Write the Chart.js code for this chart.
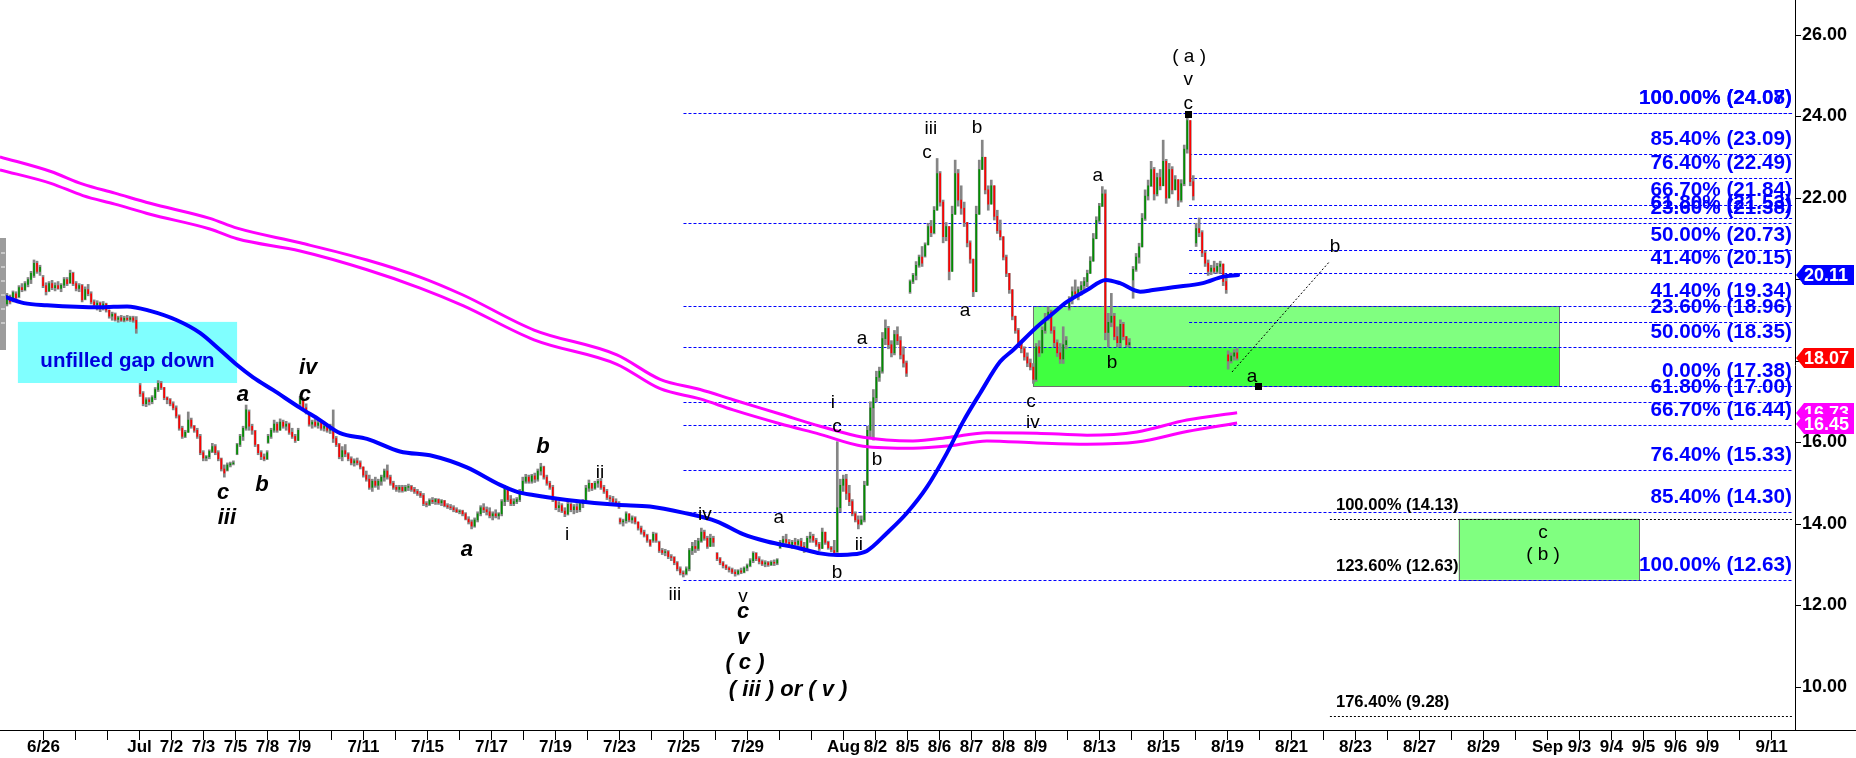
<!DOCTYPE html>
<html><head><meta charset="utf-8">
<script src="https://cdn.jsdelivr.net/npm/chart.js@4.4.1/dist/chart.umd.min.js"></script>
<style>html,body{margin:0;padding:0;background:#fff;overflow:hidden}</style>
</head><body>
<canvas id="c" width="1856" height="758"></canvas>
<script>
const FONT = '"Liberation Sans", Arial, Helvetica, sans-serif';

// ---- axis ----
const tickLabels = ["6/26","","","Jul","7/2","7/3","7/5","7/8","7/9","","7/11","","7/15","","7/17","","7/19","","7/23","","7/25","","7/29","","","Aug","8/2","8/5","8/6","8/7","8/8","8/9","","8/13","","8/15","","8/19","","8/21","","8/23","","8/27","","8/29","","Sep","9/3","9/4","9/5","9/6","9/9","","9/11"];
const yTickValues = [10,12,14,16,18,20,22,24,26];
const X_MIN = -1.359, X_MAX = 54.734, Y_MIN = 8.945, Y_MAX = 26.859;

// ---- price bars [open, high, low, close]; session index of first bar + bar interval ----
const BAR_STEP = 0.094;
const segStarts = [-1.33, 3.02, 6.05, 7.02, 8.02, 18.02, 21.05, 23.02, 27.08, 31.02, 34.05, 36.02, 37.02];
const segA = [[19.33,19.58,19.25,19.50],[19.45,19.55,19.30,19.35],[19.40,19.66,19.35,19.60],[19.58,19.62,19.40,19.45],[19.48,19.72,19.45,19.68],[19.65,19.70,19.50,19.55],[19.58,19.85,19.55,19.80],[19.80,19.90,19.70,19.75],[19.75,19.95,19.72,19.90],[19.88,20.05,19.82,20.00],[20.00,20.20,19.90,20.15],[20.10,20.48,20.05,20.40],[20.40,20.45,20.15,20.20],[20.20,20.35,20.10,20.30],[20.05,20.10,19.80,19.85],[19.85,19.92,19.62,19.70],[19.72,19.95,19.70,19.90],[19.90,19.98,19.75,19.80],[19.80,19.92,19.72,19.85],[19.85,19.95,19.76,19.78],[19.78,19.90,19.70,19.86],[19.86,20.05,19.80,20.00],[20.00,20.05,19.85,19.90],[19.92,20.23,19.90,20.15],[20.15,20.18,19.85,19.90],[19.90,19.95,19.72,19.78],[19.78,19.90,19.70,19.85],[19.85,19.88,19.45,19.50],[19.52,19.82,19.50,19.75],[19.75,19.88,19.60,19.65],[19.65,19.70,19.40,19.45],[19.45,19.50,19.30,19.38],[19.38,19.48,19.25,19.42],[19.42,19.45,19.21,19.28],[19.30,19.46,19.25,19.40],[19.40,19.42,19.20,19.25],[19.25,19.25,19.05,19.10],[19.10,19.20,19.00,19.15],[19.15,19.18,18.98,19.02],[19.02,19.10,18.95,19.06],[19.06,19.12,18.97,19.00],[19.00,19.10,18.96,19.05],[19.05,19.12,18.98,19.02],[19.02,19.10,18.97,19.06],[19.06,19.10,18.95,19.00],[19.00,19.09,18.68,18.80]];
const segB = [[17.40,17.45,17.13,17.20],[17.20,17.25,16.90,16.95],[16.95,17.10,16.88,17.05],[17.05,17.10,16.92,17.00],[17.00,17.15,16.95,17.10],[17.10,17.35,17.05,17.30],[17.30,17.52,17.25,17.45],[17.45,17.50,17.30,17.35],[17.35,17.35,17.05,17.10],[17.10,17.12,16.95,17.05],[17.05,17.08,16.90,16.95],[16.95,17.00,16.80,16.85],[16.85,16.90,16.60,16.65],[16.65,16.68,16.30,16.35],[16.35,16.40,16.10,16.15],[16.15,16.30,16.12,16.25],[16.25,16.75,16.25,16.55],[16.55,16.60,16.35,16.40],[16.40,16.42,16.25,16.30],[16.30,16.35,16.10,16.15],[16.15,16.20,15.70,15.75],[15.75,15.80,15.55,15.62],[15.62,15.68,15.55,15.65],[15.65,15.82,15.60,15.78],[15.78,15.98,15.75,15.90],[15.90,15.95,15.70,15.75],[15.75,15.80,15.55,15.60],[15.60,15.62,15.30,15.35],[15.35,15.45,15.15,15.25],[15.32,15.50,15.30,15.45],[15.45,15.52,15.40,15.48],[15.48,15.55,15.45,15.50]];
const segC = [[15.72,15.98,15.70,15.95],[15.95,16.20,15.90,16.15],[16.15,16.40,16.05,16.35],[16.35,16.92,16.30,16.80],[16.75,16.80,16.30,16.40],[16.40,16.45,16.20,16.30],[16.28,16.30,15.90,15.95],[15.95,15.95,15.70,15.75],[15.75,15.80,15.58,15.65],[15.65,15.72,15.55,15.60],[15.60,15.80,15.58,15.75]];
const segD = [[16.00,16.20,15.98,16.15],[16.15,16.35,16.10,16.30],[16.30,16.55,16.25,16.45],[16.45,16.50,16.25,16.30],[16.30,16.58,16.30,16.50],[16.50,16.55,16.35,16.40],[16.40,16.52,16.30,16.45],[16.45,16.48,16.20,16.25],[16.25,16.35,16.10,16.15],[16.15,16.20,16.00,16.05],[16.05,16.35,16.05,16.30]];
const segE = [[16.95,17.13,16.90,17.08],[17.05,17.10,16.80,16.85],[16.85,16.95,16.70,16.75],[16.70,16.70,16.40,16.45],[16.45,16.55,16.35,16.50],[16.50,16.58,16.38,16.42],[16.42,16.55,16.35,16.48],[16.48,16.52,16.30,16.35],[16.35,16.45,16.28,16.40],[16.40,16.42,16.25,16.30],[16.30,16.45,16.22,16.35],[16.35,16.80,16.00,16.10],[16.10,16.15,15.90,15.95],[15.95,15.98,15.60,15.65],[15.65,15.90,15.55,15.80],[15.80,15.95,15.65,15.72],[15.72,15.75,15.55,15.60],[15.60,15.65,15.45,15.50],[15.50,15.60,15.42,15.55],[15.55,15.62,15.45,15.50],[15.50,15.55,15.35,15.40],[15.40,15.40,15.15,15.20],[15.20,15.30,15.05,15.10],[15.10,15.20,14.85,14.90],[14.90,15.10,14.80,15.05],[15.05,15.15,14.90,14.95],[14.95,15.10,14.85,15.05],[15.05,15.20,14.95,15.15],[15.15,15.35,15.05,15.30],[15.30,15.45,15.10,15.15],[15.15,15.20,14.95,15.00],[15.00,15.05,14.85,14.90],[14.90,14.95,14.80,14.85],[14.85,14.95,14.78,14.90],[14.90,14.95,14.78,14.82],[14.82,14.95,14.80,14.90],[14.90,14.98,14.82,14.92],[14.92,14.95,14.80,14.85],[14.85,14.90,14.75,14.80],[14.80,14.85,14.70,14.75],[14.75,14.80,14.65,14.70],[14.70,14.75,14.45,14.50],[14.50,14.55,14.42,14.48],[14.48,14.62,14.45,14.58],[14.58,14.65,14.50,14.55],[14.55,14.63,14.48,14.60],[14.60,14.62,14.48,14.52],[14.52,14.60,14.45,14.57],[14.57,14.58,14.42,14.45],[14.45,14.50,14.38,14.42],[14.42,14.48,14.35,14.40],[14.40,14.45,14.30,14.35],[14.35,14.40,14.28,14.30],[14.30,14.35,14.25,14.32],[14.32,14.34,14.20,14.25],[14.25,14.28,14.10,14.12],[14.12,14.18,14.00,14.05],[14.05,14.10,13.88,13.95],[13.95,14.15,13.92,14.10],[14.10,14.30,14.05,14.25],[14.25,14.45,14.20,14.40],[14.40,14.50,14.28,14.35],[14.35,14.42,14.22,14.30],[14.30,14.40,14.15,14.20],[14.20,14.30,14.10,14.25],[14.25,14.35,14.15,14.20],[14.20,14.28,14.12,14.25],[14.25,14.60,14.20,14.55],[14.55,14.95,14.45,14.85],[14.85,14.88,14.55,14.60],[14.60,14.70,14.45,14.50],[14.50,14.62,14.45,14.55],[14.55,14.65,14.50,14.60],[14.60,14.85,14.55,14.80],[14.80,15.15,14.78,15.05],[15.05,15.22,15.00,15.15],[15.15,15.20,15.00,15.05],[15.05,15.22,15.00,15.18],[15.18,15.25,15.02,15.10],[15.10,15.35,15.05,15.30],[15.30,15.49,15.20,15.40],[15.40,15.42,15.10,15.15],[15.15,15.20,14.95,15.00],[15.00,15.05,14.85,14.90],[14.90,14.95,14.55,14.60],[14.60,14.65,14.35,14.40],[14.40,14.55,14.30,14.45],[14.45,14.50,14.28,14.32],[14.32,14.40,14.18,14.25],[14.25,14.55,14.22,14.48],[14.48,14.52,14.30,14.35],[14.35,14.48,14.25,14.42],[14.42,14.50,14.28,14.35],[14.35,14.55,14.30,14.50],[14.50,14.60,14.40,14.55],[14.55,14.95,14.50,14.88],[14.88,15.08,14.80,15.00],[15.00,15.00,14.82,14.88],[14.88,15.05,14.85,15.00],[15.00,15.10,14.90,15.05],[15.05,15.12,14.85,14.90],[14.90,14.95,14.75,14.80],[14.80,14.85,14.60,14.65],[14.65,14.70,14.55,14.62],[14.62,14.68,14.50,14.55],[14.55,14.62,14.45,14.50],[14.50,14.55,14.38,14.42]];
const segF = [[14.12,14.15,14.00,14.05],[14.05,14.12,13.95,14.08],[14.08,14.30,14.02,14.25],[14.25,14.25,14.05,14.10],[14.10,14.20,14.02,14.15],[14.15,14.18,14.00,14.05],[14.05,14.05,13.85,13.90],[13.90,13.95,13.75,13.80],[13.80,13.85,13.68,13.72],[13.72,13.75,13.55,13.60],[13.60,13.62,13.45,13.48],[13.60,13.80,13.55,13.75],[13.75,13.78,13.55,13.60],[13.55,13.58,13.30,13.35],[13.35,13.40,13.25,13.30],[13.30,13.38,13.22,13.32],[13.32,13.35,13.15,13.20],[13.20,13.25,13.10,13.18],[13.18,13.20,13.00,13.05],[13.05,13.08,12.85,12.90],[12.90,12.95,12.75,12.80],[12.80,12.85,12.70,12.78],[12.78,12.95,12.75,12.90],[12.90,13.40,12.85,13.35],[13.35,13.55,13.25,13.45],[13.45,13.60,13.30,13.40],[13.40,13.65,13.35,13.58],[13.58,13.90,13.55,13.80],[13.80,13.85,13.60,13.65],[13.65,13.70,13.40,13.45],[13.45,13.75,13.45,13.65],[13.65,13.70,13.45,13.55]];
const segG = [[13.28,13.30,13.10,13.15],[13.15,13.18,13.00,13.05],[13.05,13.08,12.92,12.98],[12.98,13.00,12.88,12.92],[12.92,12.95,12.82,12.88],[12.88,12.92,12.78,12.82],[12.82,12.88,12.72,12.78],[12.78,12.88,12.75,12.85],[12.85,12.92,12.78,12.82],[12.82,12.95,12.80,12.92],[12.92,13.02,12.85,12.98],[12.98,13.15,12.95,13.10],[13.10,13.32,13.05,13.28],[13.28,13.30,13.10,13.15],[13.15,13.20,13.02,13.08],[13.08,13.12,12.98,13.02],[13.02,13.10,12.95,13.05],[13.05,13.08,12.96,13.00],[13.00,13.10,12.98,13.06],[13.06,13.12,12.98,13.04],[13.04,13.15,13.00,13.12]];
const segH = [[13.42,13.60,13.40,13.55],[13.55,13.70,13.45,13.62],[13.62,13.75,13.50,13.55],[13.55,13.62,13.42,13.48],[13.48,13.60,13.40,13.55],[13.55,13.65,13.45,13.50],[13.50,13.62,13.40,13.58],[13.58,13.65,13.40,13.45],[13.45,13.55,13.30,13.35],[13.35,13.70,13.35,13.65],[13.65,13.80,13.55,13.70],[13.70,13.75,13.55,13.60],[13.60,13.65,13.45,13.50],[13.50,13.55,13.35,13.40],[13.40,13.90,13.40,13.80],[13.80,13.80,13.50,13.55],[13.55,13.58,13.38,13.42],[13.42,13.45,13.32,13.38],[13.35,13.60,13.24,13.30],[13.32,16.02,13.30,14.40],[14.40,15.10,14.30,14.95],[14.95,15.20,14.80,15.10],[15.10,15.22,14.60,14.75],[14.75,14.95,14.45,14.55],[14.55,14.60,14.20,14.25],[14.25,14.30,14.05,14.10],[14.10,14.20,13.88,14.00],[14.00,14.20,13.98,14.10],[14.10,15.05,14.05,14.95],[14.95,16.40,14.95,16.30],[16.30,17.00,16.10,16.85],[16.85,17.30,16.06,17.10],[17.10,17.75,17.00,17.60],[17.60,17.85,17.50,17.75],[17.75,18.70,17.70,18.55],[18.55,19.01,18.40,18.80],[18.80,18.85,18.30,18.40],[18.40,18.50,18.10,18.20],[18.20,18.75,18.15,18.65],[18.65,18.84,18.40,18.50],[18.50,18.60,18.05,18.15],[18.15,18.35,17.85,17.95],[17.95,18.00,17.62,17.70]];
const segI = [[19.70,19.99,19.66,19.95],[19.95,20.15,19.90,20.10],[20.10,20.44,19.99,20.35],[20.35,20.60,20.30,20.55],[20.55,20.81,20.32,20.40],[20.58,20.90,20.55,20.85],[20.85,21.38,20.85,21.30],[21.30,21.45,21.05,21.15],[21.15,21.79,21.12,21.70],[21.70,22.97,21.70,22.60],[22.60,22.65,21.80,21.90],[21.90,21.95,20.90,21.05],[21.05,21.40,20.95,21.30],[21.30,21.30,19.99,20.20],[20.20,21.80,20.20,21.60],[21.60,22.93,21.60,22.60],[22.60,22.70,21.80,21.95],[21.95,22.30,21.60,21.75],[21.75,21.90,21.30,21.40],[21.40,21.40,20.80,20.90],[20.90,20.95,20.40,20.50],[20.50,20.50,19.58,19.70],[19.70,21.80,19.70,21.60],[21.60,22.93,21.60,22.70],[22.70,23.42,22.70,23.00],[23.00,23.00,22.10,22.20],[22.20,22.30,21.70,21.85],[21.85,22.44,21.85,22.30],[22.30,22.30,21.46,21.55],[21.55,21.70,21.13,21.20],[21.20,21.46,20.97,21.05],[21.05,21.05,20.48,20.55],[20.55,20.60,20.07,20.15],[20.15,20.15,19.66,19.75],[19.75,19.75,19.01,19.10],[19.10,19.10,18.68,18.75],[18.75,18.80,18.35,18.45],[18.45,18.45,18.20,18.30],[18.30,18.35,18.02,18.10],[18.10,18.20,17.86,17.95],[17.95,18.05,17.78,17.85],[17.85,17.94,17.45,17.55]];
const segJ = [[17.55,18.43,17.50,18.35],[18.35,18.50,18.11,18.20],[18.20,18.84,18.20,18.75],[18.75,19.17,18.68,19.05],[19.05,19.33,19.00,19.20],[19.20,19.25,18.68,18.75],[18.75,18.84,18.35,18.45],[18.45,18.52,18.11,18.20],[18.20,18.43,17.94,18.05],[18.05,18.84,17.94,18.40],[18.40,18.60,18.30,18.50],[19.30,19.58,19.25,19.50],[19.50,19.82,19.40,19.70],[19.70,19.99,19.58,19.65],[19.65,19.82,19.50,19.75],[19.75,19.95,19.62,19.85],[19.85,20.05,19.70,19.95],[19.95,20.23,19.82,20.15],[20.15,20.56,20.15,20.45],[20.45,21.13,20.45,21.00],[21.00,21.54,21.00,21.45],[21.45,21.87,21.40,21.80],[21.80,22.28,21.79,22.10],[22.10,22.20,18.52,18.70],[18.70,19.17,18.35,18.95],[18.95,19.66,18.84,19.10],[19.10,19.17,18.52,18.60],[18.60,18.84,18.35,18.45],[18.45,19.01,18.35,18.90],[18.90,18.95,18.52,18.60],[18.60,18.60,18.35,18.40],[18.40,18.55,18.35,18.45]];
const segK = [[19.99,20.32,19.54,20.25],[20.25,20.64,20.20,20.55],[20.55,20.89,20.40,20.80],[20.80,21.62,20.80,21.50],[21.50,22.20,21.45,22.05],[22.05,22.44,21.95,22.30],[22.30,22.90,22.28,22.70],[22.70,22.75,21.95,22.10],[22.10,22.61,22.05,22.50],[22.50,22.70,22.20,22.30],[22.30,23.42,22.30,22.90],[22.90,22.95,21.87,22.00],[22.00,22.85,22.00,22.70],[22.70,22.77,22.10,22.20],[22.20,22.55,22.20,22.45],[22.45,22.45,21.79,21.95],[21.95,22.45,21.90,22.35],[22.35,23.30,22.30,23.20],[23.20,24.08,23.10,23.90],[23.90,23.90,22.30,22.40],[22.40,22.55,21.95,22.05]];
const segL = [[20.90,21.38,20.81,21.25],[21.25,21.51,21.05,21.15],[21.15,21.20,20.56,20.65],[20.65,20.70,20.32,20.40],[20.40,20.48,20.10,20.20],[20.20,20.35,20.12,20.28],[20.28,20.45,20.15,20.20],[20.20,20.40,20.15,20.32],[20.32,20.45,20.15,20.38],[20.38,20.38,19.85,19.95],[19.95,20.05,19.66,19.75]];
const segM = [[18.15,18.25,17.80,18.00],[18.00,18.20,17.95,18.12],[18.12,18.28,18.02,18.20],[18.20,18.31,18.02,18.07]];
const segBars = [segA, segB, segC, segD, segE, segF, segG, segH, segI, segJ, segK, segL, segM];

// ---- moving averages ----
const blueT = [-1.36,-0.61,0.11,1.77,2.61,3.33,4.17,4.89,5.52,6.05,6.55,7.17,8.02,8.64,9.27,10.11,11.14,12.17,13.23,14.27,14.80,15.30,16.36,17.92,18.95,19.98,21.05,21.86,22.61,23.64,24.27,24.80,25.20,25.73,26.36,26.98,27.61,28.23,28.73,29.27,29.89,30.30,31.05,31.55,31.98,32.61,33.20,33.64,34.27,34.67,35.30,36.23,36.86,37.33];
const blueV = [19.62,19.42,19.37,19.32,19.34,19.23,19.00,18.69,18.27,17.90,17.60,17.29,16.85,16.55,16.23,16.09,15.78,15.67,15.39,14.96,14.79,14.71,14.59,14.47,14.43,14.28,14.06,13.75,13.57,13.40,13.28,13.24,13.25,13.34,13.78,14.27,14.91,15.74,16.50,17.21,17.98,18.27,18.84,19.17,19.45,19.74,19.99,19.91,19.70,19.74,19.81,19.91,20.07,20.11];
const magT = [-1.36,0.23,1.23,2.23,3.33,5.20,6.05,8.02,10.11,11.77,13.11,15.33,17.92,19.27,20.52,21.55,23.02,24.27,25.61,27.17,28.33,29.48,31.05,32.61,34.17,35.73,37.30];
const magUpper = [23.01,22.65,22.34,22.12,21.87,21.50,21.26,20.90,20.48,20.06,19.62,18.76,18.15,17.55,17.30,17.05,16.70,16.40,16.13,16.04,16.13,16.24,16.23,16.18,16.26,16.55,16.73];
const magLower = [22.69,22.36,22.06,21.85,21.60,21.24,21.00,20.70,20.24,19.79,19.36,18.52,17.92,17.32,17.07,16.80,16.46,16.20,15.91,15.86,15.92,16.04,15.99,15.96,16.01,16.27,16.48];

// ---- fibonacci levels & zones ----
const fibLongStart = 20.0;
const fibLongV = [24.08,21.38,19.34,18.35,17.00,16.44,15.33,14.30,12.63];
const fibShortStart = 35.8;
const fibShortV = [24.08,23.09,22.49,21.84,21.52,20.73,20.15,18.96,17.38];
const fibLabelV = [24.08,24.08,23.09,22.49,21.84,21.52,21.38,20.73,20.15,19.34,18.96,18.35,17.38,17.00,16.44,15.33,14.30,12.63];
const fibLabelText = ["100.00% (24.07)","100.00% (24.08)","85.40% (23.09)","76.40% (22.49)","66.70% (21.84)","61.80% (21.53)","23.60% (21.38)","50.00% (20.73)","41.40% (20.15)","41.40% (19.34)","23.60% (18.96)","50.00% (18.35)","0.00% (17.38)","61.80% (17.00)","66.70% (16.44)","76.40% (15.33)","85.40% (14.30)","100.00% (12.63)"];
const extStart = 40.2;
const extLineV = [14.13, 9.28];
const extLabelV = [14.13, 12.63, 9.28];
const extLabelText = ["100.00% (14.13)","123.60% (12.63)","176.40% (9.28)"];
const gapT = [-0.80, 6.05], gapV = [18.96, 17.46];
const zoneT = [30.92, 47.36], zoneV = [19.34, 18.35, 17.38];
const targetT = [44.22, 49.86], targetV = [14.13, 12.63];
const projT = [37.14, 40.20], projV = [17.73, 20.45];
const markT = [35.77, 37.95], markV = [24.06, 17.38];

// ---- wave labels [text, session, price] ----
const italicWaves = [["iv",8.27,17.83],["c",8.17,17.17],["a",6.23,17.17],["b",6.83,14.96],["c",5.61,14.76],["iii",5.73,14.15],["b",15.61,15.89],["a",13.23,13.36],["c",21.86,11.84],["v",21.86,11.20],["( c )",21.92,10.59],["( iii ) or ( v )",23.27,9.93]];
const plainWaves = [["ii",17.39,15.25],["i",16.36,13.73],["iv",20.67,14.22],["a",22.98,14.15],["iii",19.73,12.26],["v",21.86,12.21],["i",24.67,16.97],["c",24.80,16.38],["b",26.05,15.57],["ii",25.48,13.48],["b",24.80,12.80],["c",30.86,17.00],["iv",30.92,16.48],["a",37.77,17.61],["iii",27.73,23.69],["c",27.61,23.10],["b",29.17,23.72],["a",28.80,19.23],["a",25.58,18.54],["a",32.95,22.54],["b",33.39,17.95],["c",35.77,24.31],["v",35.77,24.90],["( a )",35.80,25.46],["b",40.36,20.80],["c",46.86,13.78],["( b )",46.86,13.24]];

// ---- last-value badges ----
const badgeV = [20.11, 18.07, 16.73, 16.45];
const badgeText = ["20.11","18.07","16.73","16.45"];
const badgeColor = ["#0000ff","#ff0000","#ff00ff","#ff00ff"];

// ---- build datasets ----
const wickData = [], bodyData = [], bodyColors = [];
segBars.forEach((bars, s) => bars.forEach((b, i) => {
  const t = segStarts[s] + i * BAR_STEP;
  const [o, h, l, c] = b;
  wickData.push({x: t, y: [l, h]});
  bodyData.push({x: t, y: [Math.min(o, c), Math.max(o, c)]});
  bodyColors.push(c >= o ? '#008f00' : '#ff0000');
}));
const blueData = blueT.map((t, i) => ({x: t, y: blueV[i]}));
const magUData = magT.map((t, i) => ({x: t, y: magUpper[i]}));
const magLData = magT.map((t, i) => ({x: t, y: magLower[i]}));

function hline(ctx, x1, x2, y, color, dash) {
  ctx.strokeStyle = color; ctx.lineWidth = 1; ctx.setLineDash(dash);
  const yy = Math.round(y) + 0.5;
  ctx.beginPath(); ctx.moveTo(x1, yy); ctx.lineTo(x2, yy); ctx.stroke();
}
function txt(ctx, s, x, y, font, color, align, base) {
  ctx.font = font; ctx.fillStyle = color; ctx.textAlign = align; ctx.textBaseline = base;
  ctx.fillText(s, x, y);
}

const overlay = {
  id: 'overlay',
  beforeDatasetsDraw(chart) {
    const {ctx, chartArea: a} = chart;
    const X = v => chart.scales.x.getPixelForValue(v), Y = v => chart.scales.y.getPixelForValue(v);
    ctx.save();
    // unfilled gap box
    ctx.fillStyle = '#80ffff';
    ctx.fillRect(X(gapT[0]), Y(gapV[0]), X(gapT[1]) - X(gapT[0]), Y(gapV[1]) - Y(gapV[0]));
    txt(ctx, 'unfilled gap down', (X(gapT[0]) + X(gapT[1])) / 2, Y(gapV[1]) - 16, 'bold 20.5px ' + FONT, '#0000dd', 'center', 'alphabetic');
    // green zone
    ctx.fillStyle = '#80ff80';
    ctx.fillRect(X(zoneT[0]), Y(zoneV[0]), X(zoneT[1]) - X(zoneT[0]), Y(zoneV[1]) - Y(zoneV[0]));
    ctx.fillStyle = '#40ff40';
    ctx.fillRect(X(zoneT[0]), Y(zoneV[1]), X(zoneT[1]) - X(zoneT[0]), Y(zoneV[2]) - Y(zoneV[1]));
    ctx.strokeStyle = '#707070'; ctx.lineWidth = 1; ctx.setLineDash([]);
    ctx.strokeRect(Math.round(X(zoneT[0])) + 0.5, Math.round(Y(zoneV[0])) + 0.5, Math.round(X(zoneT[1]) - X(zoneT[0])), Math.round(Y(zoneV[2]) - Y(zoneV[0])));
    // target box
    ctx.fillStyle = '#80ff80';
    ctx.fillRect(X(targetT[0]), Y(targetV[0]), X(targetT[1]) - X(targetT[0]), Y(targetV[1]) - Y(targetV[0]));
    ctx.strokeRect(Math.round(X(targetT[0])) + 0.5, Math.round(Y(targetV[0])) + 0.5, Math.round(X(targetT[1]) - X(targetT[0])), Math.round(Y(targetV[1]) - Y(targetV[0])));
    // fib lines
    fibLongV.forEach(v => hline(ctx, X(fibLongStart), a.right - 2, Y(v), '#0000ff', [3, 2]));
    fibShortV.forEach(v => hline(ctx, X(fibShortStart), a.right - 2, Y(v), '#0000ff', [3, 2]));
    extLineV.forEach(v => hline(ctx, X(extStart), a.right - 2, Y(v), '#000000', [2, 2]));
    // projection line
    ctx.strokeStyle = '#000'; ctx.setLineDash([2, 2]); ctx.lineWidth = 1;
    ctx.beginPath(); ctx.moveTo(X(projT[0]), Y(projV[0])); ctx.lineTo(X(projT[1]), Y(projV[1])); ctx.stroke();
    ctx.setLineDash([]);
    ctx.restore();
  },
  afterDatasetsDraw(chart) {
    const {ctx, chartArea: a} = chart;
    const X = v => chart.scales.x.getPixelForValue(v), Y = v => chart.scales.y.getPixelForValue(v);
    ctx.save();
    fibLabelV.forEach((v, i) => txt(ctx, fibLabelText[i], a.right - 3, Y(v) - 9, 'bold 20.7px ' + FONT, '#0000ff', 'right', 'alphabetic'));
    extLabelV.forEach((v, i) => txt(ctx, extLabelText[i], X(extStart) + 6, Y(v) - 9, 'bold 16.6px ' + FONT, '#000', 'left', 'alphabetic'));
    italicWaves.forEach(w => txt(ctx, w[0], X(w[1]), Y(w[2]), 'italic bold 22px ' + FONT, '#000', 'center', 'middle'));
    plainWaves.forEach(w => txt(ctx, w[0], X(w[1]), Y(w[2]), '19px ' + FONT, '#000', 'center', 'middle'));
    ctx.fillStyle = '#000';
    markT.forEach((t, i) => ctx.fillRect(Math.round(X(t)) - 3, Math.round(Y(markV[i])) - 3, 7, 7));
    ctx.restore();
  },
  afterDraw(chart) {
    const {ctx, chartArea: a, width} = chart;
    const Y = v => chart.scales.y.getPixelForValue(v);
    ctx.save();
    // extend x axis line under the price scale
    ctx.strokeStyle = '#000'; ctx.lineWidth = 1;
    ctx.beginPath(); ctx.moveTo(a.right, a.bottom + 0.5); ctx.lineTo(width, a.bottom + 0.5); ctx.stroke();
    // scroll handle at the left edge
    ctx.fillStyle = '#9c9c9c'; ctx.fillRect(0, 238, 6, 112);
    ctx.fillStyle = '#c8c8c8'; for (let k = 0; k < 6; k++) ctx.fillRect(1, 252 + k * 14, 4, 2);
    // badges
    badgeV.forEach((v, i) => {
      const y = Math.round(Y(v)), h = 20, x0 = a.right + 1;
      ctx.fillStyle = badgeColor[i];
      ctx.beginPath();
      ctx.moveTo(x0, y); ctx.lineTo(x0 + 8, y - h / 2); ctx.lineTo(width - 2, y - h / 2);
      ctx.lineTo(width - 2, y + h / 2); ctx.lineTo(x0 + 8, y + h / 2); ctx.closePath(); ctx.fill();
      txt(ctx, badgeText[i], x0 + 8, y + 1, 'bold 18px ' + FONT, '#fff', 'left', 'middle');
    });
    ctx.restore();
  }
};

new Chart(document.getElementById('c'), {
  type: 'bar',
  data: {
    datasets: [
      {type: 'line', data: blueData, borderColor: '#0000ff', borderWidth: 4, pointRadius: 0, cubicInterpolationMode: 'monotone', borderJoinStyle: 'round', borderCapStyle: 'round'},
      {type: 'line', data: magUData, borderColor: '#ff00ff', borderWidth: 3, pointRadius: 0, cubicInterpolationMode: 'monotone'},
      {type: 'line', data: magLData, borderColor: '#ff00ff', borderWidth: 3, pointRadius: 0, cubicInterpolationMode: 'monotone'},
      {type: 'bar', data: bodyData, backgroundColor: bodyColors, barThickness: 1, grouped: false, borderWidth: 0},
      {type: 'bar', data: wickData, backgroundColor: '#858585', barThickness: 2, grouped: false, borderWidth: 0}
    ]
  },
  options: {
    responsive: false, animation: false, devicePixelRatio: 1,
    layout: {padding: 0},
    plugins: {legend: {display: false}, tooltip: {enabled: false}},
    events: [],
    scales: {
      x: {
        type: 'linear', min: X_MIN, max: X_MAX, offset: false,
        afterBuildTicks: s => { s.ticks = tickLabels.map((_, i) => ({value: i})); },
        afterFit: s => { s.height = 28; s.paddingLeft = 0; s.paddingRight = 0; },
        ticks: {autoSkip: false, maxRotation: 0, minRotation: 0, padding: -3, color: '#000',
                font: {family: FONT, size: 17, weight: 'bold'},
                callback: v => tickLabels[Math.round(v)] || ''},
        grid: {drawOnChartArea: false, drawTicks: true, tickLength: 10, color: '#000', offset: false},
        border: {display: true, color: '#000', width: 1}
      },
      y: {
        position: 'right', min: Y_MIN, max: Y_MAX,
        afterBuildTicks: s => { s.ticks = yTickValues.map(v => ({value: v})); },
        afterFit: s => { s.width = 61; s.paddingTop = 0; s.paddingBottom = 0; },
        ticks: {padding: 1, color: '#000', font: {family: FONT, size: 18, weight: 'bold'},
                callback: v => Number(v).toFixed(2)},
        grid: {drawOnChartArea: false, drawTicks: true, tickLength: 6, color: '#000'},
        border: {display: true, color: '#000', width: 1}
      }
    }
  },
  plugins: [overlay]
});
</script>
</body></html>
